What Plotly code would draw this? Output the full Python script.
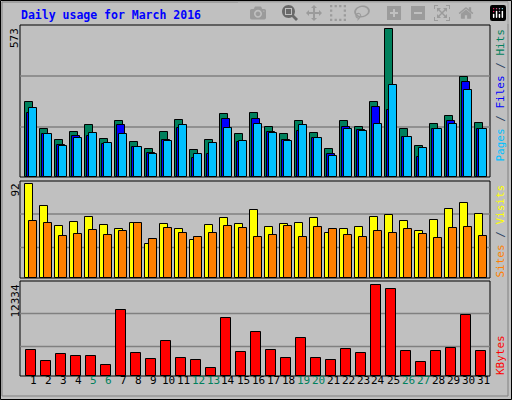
import plotly.graph_objects as go

days = list(range(1, 32))
day_labels = [str(d) for d in days]
weekend_days = [5, 6, 12, 13, 19, 20, 26, 27]
hits = [293,188,145,176,200,149,219,137,110,176,223,106,145,246,165,250,196,165,219,172,110,219,196,293,573,188,122,207,238,390,211]
files = [250,165,126,161,161,130,200,118,95,145,192,75,91,227,137,227,176,145,180,153,91,196,184,270,262,157,79,188,219,367,188]
pages = [266,165,122,153,172,133,165,118,91,141,203,91,133,192,141,207,172,141,203,153,83,188,180,207,359,157,114,188,207,336,188]
visits = [92,71,51,55,60,52,48,54,33,53,48,37,52,59,53,67,50,53,54,59,44,48,50,60,62,56,46,57,68,74,63]
sites = [56,54,41,43,47,42,46,54,38,49,44,40,44,51,49,40,42,51,40,50,48,42,40,46,44,48,43,39,49,50,41]
kbytes = [3556,2070,3016,2745,2745,1530,8955,3150,2340,4770,2475,2205,1125,7875,3285,5985,3556,2475,5175,2475,2205,3690,3150,12334,11790,3420,1935,3420,3825,8280,3420]

W, H = 512, 400
L, R, T, B = 20, 490, 25, 376
def px(x): return (x - L) / (R - L)
def py(y): return (B - y) / (B - T)

fig = go.Figure()
ln = dict(color="black", width=1)
def bar(y, color, off, width, ax):
    fig.add_trace(go.Bar(x=days, y=y, marker=dict(color=color, line=ln), offset=off, width=width,
                         xaxis="x", yaxis=ax, showlegend=False, hoverinfo="skip"))
bar(hits, "#00805C", -0.167, 0.533, "y")
bar(files, "#0000FF", -0.033, 0.533, "y")
bar(pages, "#00C0FF", 0.1, 0.533, "y")
bar(visits, "#FFFF00", -0.167, 0.533, "y2")
bar(sites, "#FF8000", 0.1, 0.533, "y2")
bar(kbytes, "#FF0000", -0.1, 0.667, "y3")

shapes = []
shapes.append(dict(type="rect", xref="paper", yref="paper", x0=px(0.5), x1=px(511.5), y0=py(399.5), y1=py(0.5),
                   line=dict(color="black", width=1), layer="below"))
shapes.append(dict(type="rect", xref="paper", yref="paper", x0=px(2), x1=px(508), y0=py(396), y1=py(2),
                   line=dict(color="#808080", width=1), layer="below"))
for y0, y1 in [(25, 177), (181, 278), (281, 376)]:
    shapes.append(dict(type="rect", xref="paper", yref="paper", x0=0, x1=1, y0=py(y1), y1=py(y0),
                       line=dict(color="black", width=1), layer="below"))
for ax, vals in [("y", [194, 392]), ("y2", [30, 63]), ("y3", [3970, 8420])]:
    for v in vals:
        shapes.append(dict(type="line", xref="paper", yref=ax, x0=0, x1=1, y0=v, y1=v,
                           line=dict(color="#808080", width=1.5), layer="below"))

mono = "DejaVu Sans Mono"
ann = []
ann.append(dict(text="<b>Daily usage for March 2016</b>", xref="paper", yref="paper", x=px(19), y=py(15),
                xanchor="left", yanchor="middle", showarrow=False, font=dict(family=mono, size=11.5, color="#0000FF")))
for d in days:
    ann.append(dict(text=str(d), xref="x", yref="paper", x=d + 0.37, y=py(389), showarrow=False,
                    font=dict(family=mono, size=11, color="#00805C" if d in weekend_days else "black")))
for txt, ytop in [("573", 26), ("92", 182), ("12334", 283)]:
    ann.append(dict(text=txt, xref="paper", yref="paper", x=px(15), y=py(ytop), textangle=-90,
                    xanchor="center", yanchor="top", showarrow=False, font=dict(family=mono, size=11, color="black")))
ann.append(dict(text='<span style="color:#00C0FF">Pages</span> / <span style="color:#0000FF">Files</span> / <span style="color:#00805C">Hits</span>',
                xref="paper", yref="paper", x=px(500), y=py(26), textangle=-90, xanchor="center", yanchor="top",
                showarrow=False, font=dict(family=mono, size=11)))
ann.append(dict(text='<span style="color:#FF8000">Sites</span> / <span style="color:#FFFF00">Visits</span>',
                xref="paper", yref="paper", x=px(500), y=py(182), textangle=-90, xanchor="center", yanchor="top",
                showarrow=False, font=dict(family=mono, size=11)))
ann.append(dict(text="KBytes", xref="paper", yref="paper", x=px(500), y=py(333), textangle=-90,
                xanchor="center", yanchor="top", showarrow=False, font=dict(family=mono, size=11, color="#FF0000")))

fig.update_layout(
    width=W, height=H, margin=dict(l=L, r=W - R, t=T, b=H - B),
    paper_bgcolor="#C0C0C0", plot_bgcolor="#C0C0C0", barmode="overlay", bargap=0,
    xaxis=dict(range=[0.5, 31.833], showgrid=False, zeroline=False, showticklabels=False, ticks=""),
    yaxis=dict(domain=[py(177), 1], range=[0, 590], showgrid=False, zeroline=False, showticklabels=False),
    yaxis2=dict(domain=[py(278), py(181)], range=[0, 95.3], showgrid=False, zeroline=False, showticklabels=False),
    yaxis3=dict(domain=[0, py(281)], range=[0, 12820], showgrid=False, zeroline=False, showticklabels=False),
    shapes=shapes, annotations=ann,
)
fig.write_html("out.html", post_script="document.body.style.margin='0';document.body.style.overflow='hidden';")
